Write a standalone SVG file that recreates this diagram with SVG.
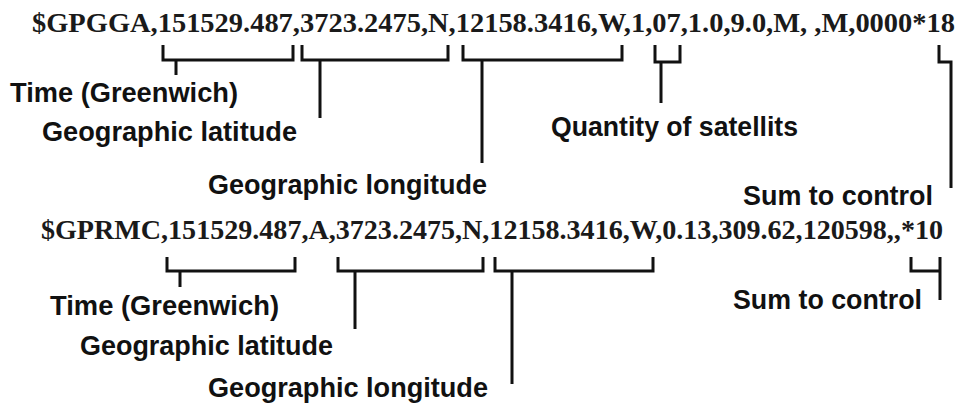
<svg xmlns="http://www.w3.org/2000/svg" width="958" height="405" viewBox="0 0 958 405">
  <style>
    .nmea { font-family: "Liberation Serif", "Times New Roman", serif; font-weight: bold; font-size: 28px; fill: #1a1a1a; }
    .lbl { font-family: "Liberation Sans", Arial, sans-serif; font-weight: bold; font-size: 27px; fill: #111; }
    .br { fill: none; stroke: #111; stroke-width: 3; stroke-linecap: butt; stroke-linejoin: miter; }
  </style>
  <rect width="958" height="405" fill="#ffffff"/>

  <g id="gpgga">
    <text class="nmea" x="32" y="32" textLength="923" lengthAdjust="spacingAndGlyphs">$GPGGA,151529.487,3723.2475,N,12158.3416,W,1,07,1.0,9.0,M, ,M,0000*18</text>
  </g>
  <g id="gprmc">
    <text class="nmea" x="41" y="239" textLength="902" lengthAdjust="spacingAndGlyphs">$GPRMC,151529.487,A,3723.2475,N,12158.3416,W,0.13,309.62,120598,,*10</text>
  </g>

  <g id="gga-time"><text class="lbl" x="10" y="102" textLength="228" lengthAdjust="spacingAndGlyphs">Time (Greenwich)</text></g>
  <g id="gga-lat"><text class="lbl" x="42" y="141" textLength="255" lengthAdjust="spacingAndGlyphs">Geographic latitude</text></g>
  <g id="gga-lon"><text class="lbl" x="208" y="194" textLength="279" lengthAdjust="spacingAndGlyphs">Geographic longitude</text></g>
  <g id="gga-sat"><text class="lbl" x="551" y="136" textLength="247" lengthAdjust="spacingAndGlyphs">Quantity of satellits</text></g>
  <g id="gga-sum"><text class="lbl" x="743" y="205" textLength="190" lengthAdjust="spacingAndGlyphs">Sum to control</text></g>

  <g id="rmc-time"><text class="lbl" x="50" y="315" textLength="229" lengthAdjust="spacingAndGlyphs">Time (Greenwich)</text></g>
  <g id="rmc-lat"><text class="lbl" x="80" y="355" textLength="253" lengthAdjust="spacingAndGlyphs">Geographic latitude</text></g>
  <g id="rmc-lon"><text class="lbl" x="208" y="397" textLength="280" lengthAdjust="spacingAndGlyphs">Geographic longitude</text></g>
  <g id="rmc-sum"><text class="lbl" x="733" y="309" textLength="189" lengthAdjust="spacingAndGlyphs">Sum to control</text></g>

  <g id="connectors">
    <!-- GPGGA brackets -->
    <path class="br" d="M163 45 V60 H293 V45 M176 60 V75"/>
    <path class="br" d="M302 45 V60 H448 V45 M320 60 V118"/>
    <path class="br" d="M463 45 V60 H622 V45 M482 60 V163"/>
    <path class="br" d="M655 45 V62 H680 V45 M661 62 V103"/>
    <path class="br" d="M939 45 V62 H951 V188"/>
    <!-- GPRMC brackets -->
    <path class="br" d="M167 257 V271 H295 V257 M180 271 V287"/>
    <path class="br" d="M338 257 V271 H483 V257 M355 271 V329"/>
    <path class="br" d="M495 257 V271 H653 V257 M512 271 V384"/>
    <path class="br" d="M911 257 V271 H940 M940 257 V300"/>
  </g>
</svg>
